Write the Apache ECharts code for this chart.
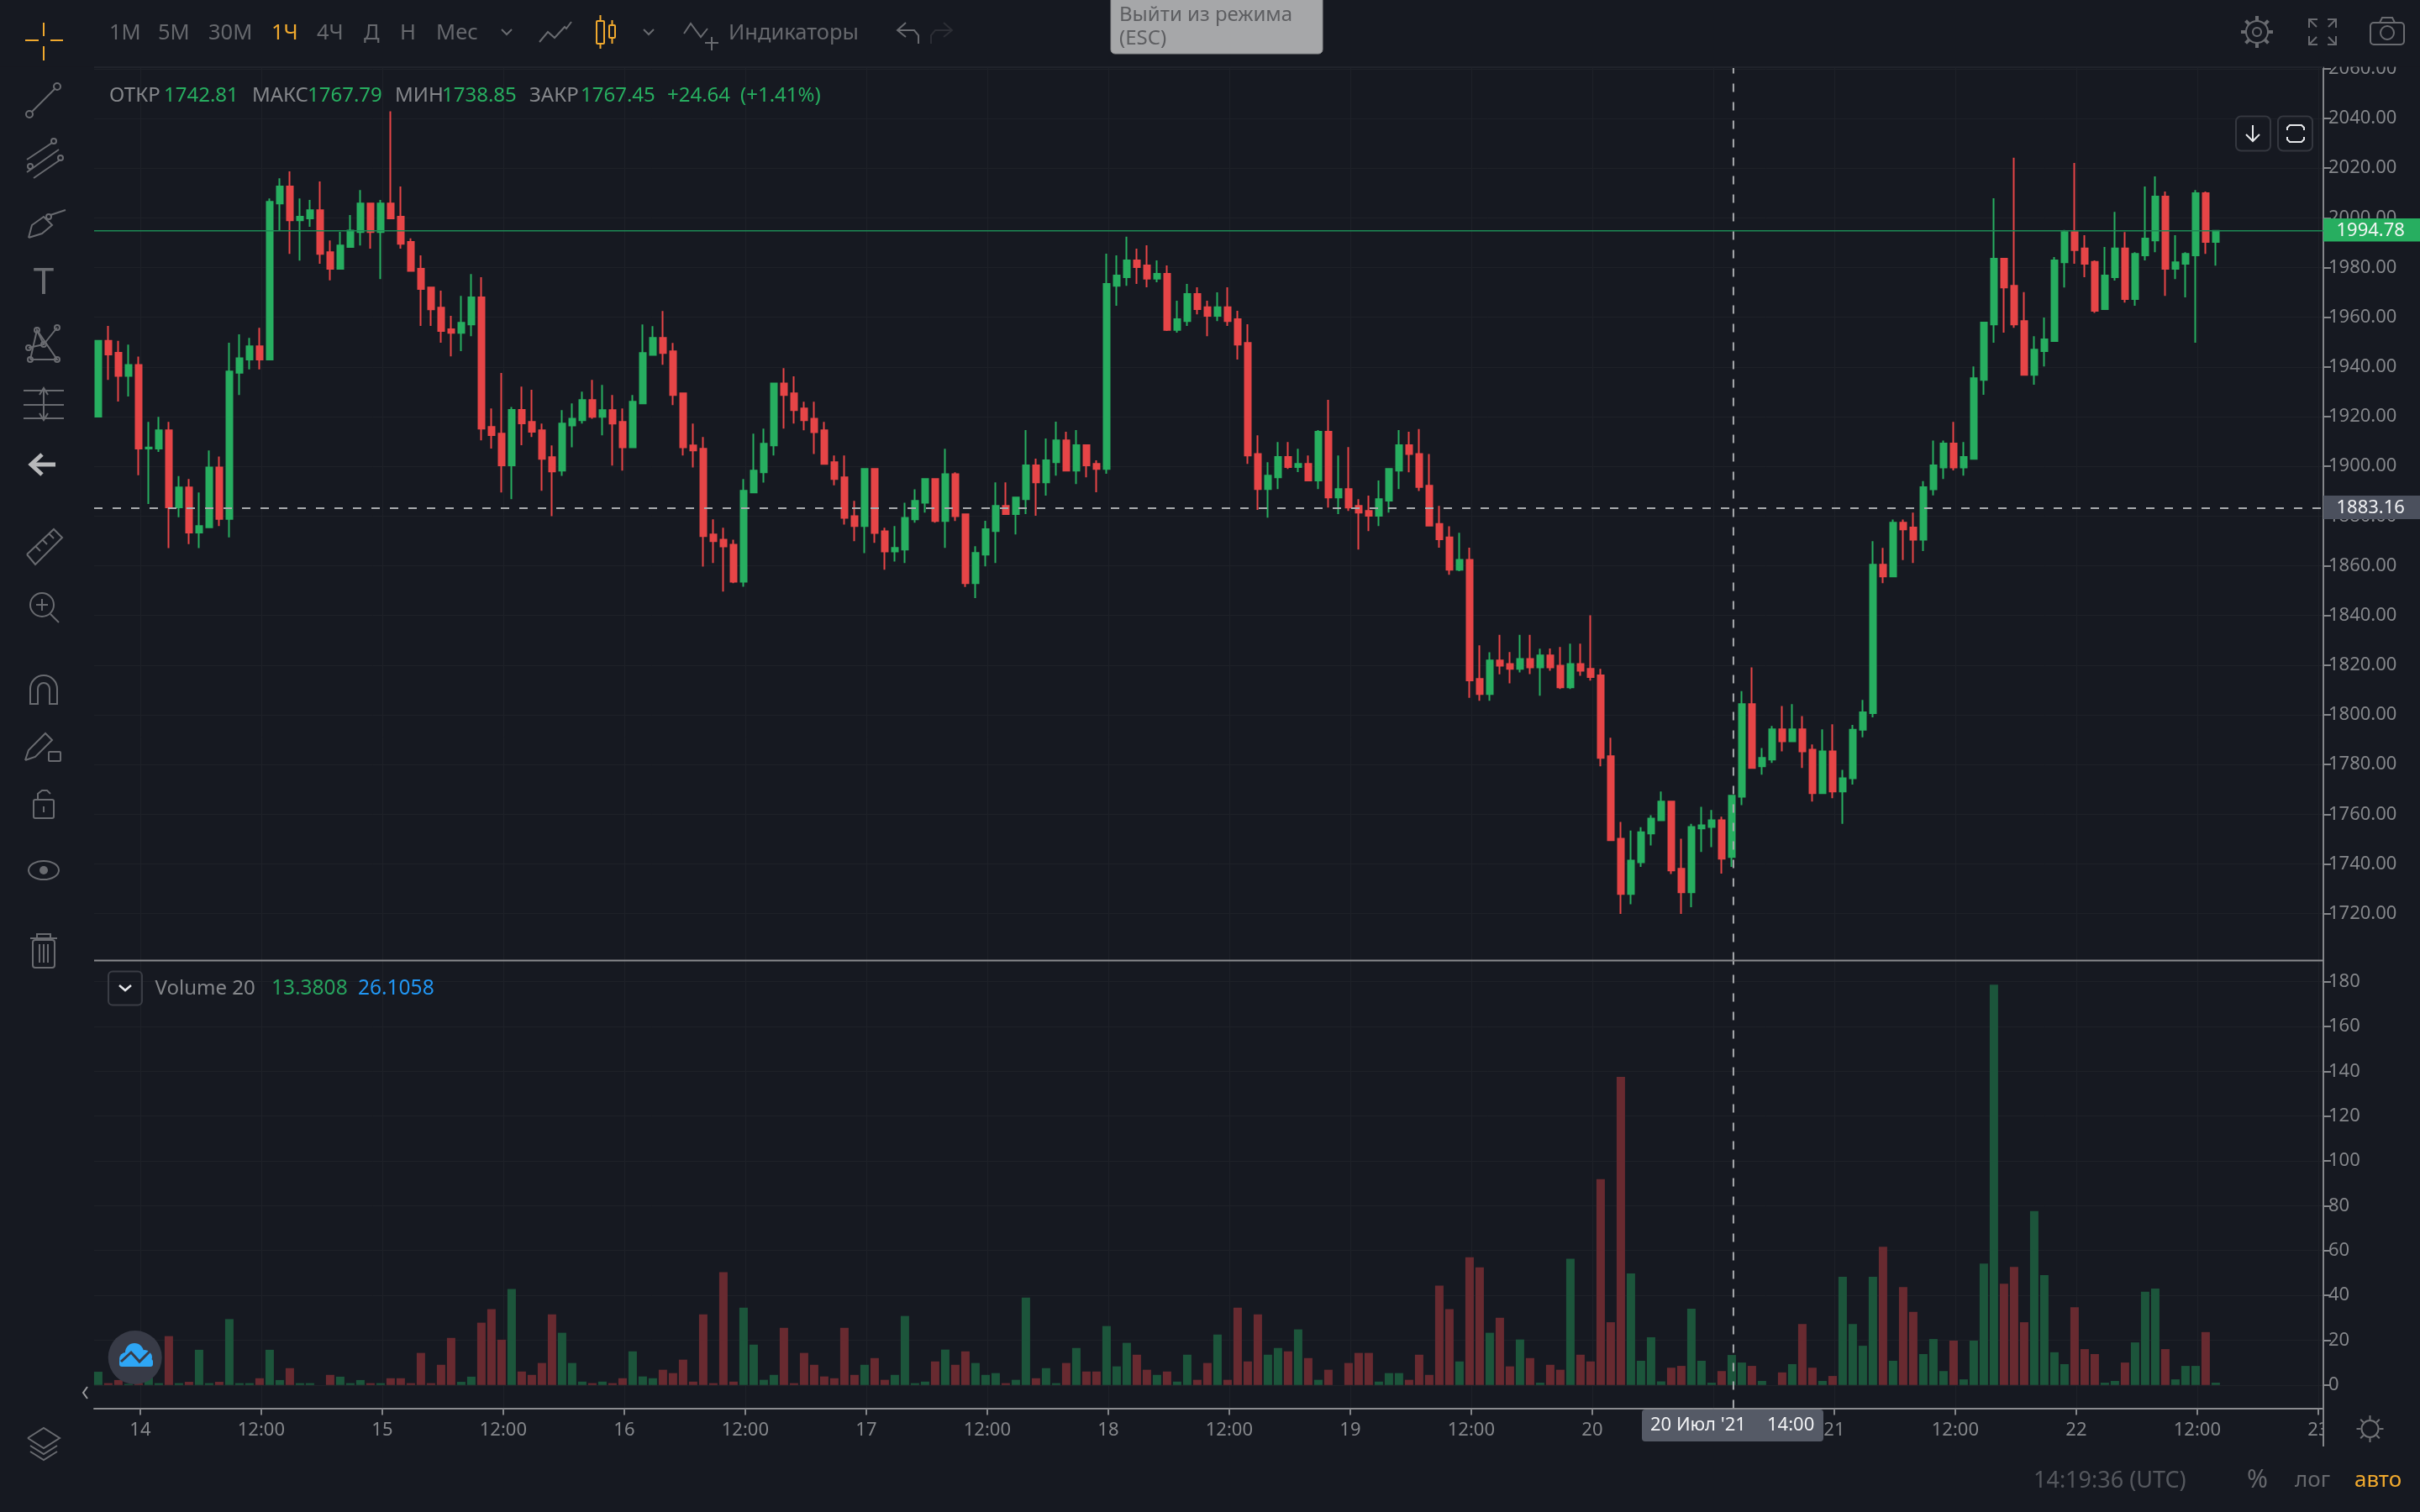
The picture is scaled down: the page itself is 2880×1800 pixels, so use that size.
<!DOCTYPE html>
<html><head><meta charset="utf-8">
<style>html,body{margin:0;padding:0;background:#161921}#c{width:2880px;height:1800px}</style>
<script src="https://cdn.jsdelivr.net/npm/echarts@6/dist/echarts.min.js"></script>
</head><body><div id="c"></div><script>
const opens=[1920.0,1950.5,1945.7,1936.4,1940.8,1907.2,1907.2,1914.5,1883.5,1891.5,
1873.4,1875.5,1899.6,1878.9,1937.7,1943.0,1948.3,1943.0,2005.8,2012.6,
1999.0,1999.8,2003.1,1986.2,1979.5,1988.3,1994.3,2005.8,1994.3,2005.8,
2000.5,1990.3,1979.5,1972.0,1963.9,1955.2,1953.7,1957.1,1968.0,1915.9,
1913.2,1900.4,1922.7,1917.9,1914.5,1903.7,1898.3,1916.5,1918.6,1926.7,
1919.9,1922.6,1917.9,1907.7,1925.3,1944.9,1951.7,1946.3,1929.4,1908.4,
1907.1,1872.6,1870.5,1868.5,1853.6,1889.5,1897.6,1908.4,1933.4,1929.4,
1923.3,1919.2,1914.5,1901.7,1895.6,1880.0,1876.0,1899.0,1873.9,1865.8,
1866.5,1878.7,1885.4,1894.9,1878.0,1896.9,1880.7,1853.0,1864.5,1874.0,
1884.1,1880.8,1886.8,1900.4,1893.6,1901.7,1910.5,1898.3,1908.5,1901.0,
1899.0,1972.7,1976.1,1982.9,1980.9,1975.5,1977.5,1954.9,1958.5,1969.4,
1964.0,1960.6,1964.0,1959.2,1949.7,1905.0,1890.9,1895.6,1903.8,1899.7,
1901.0,1894.3,1913.9,1887.5,1890.9,1884.1,1882.1,1880.1,1886.2,1898.3,
1908.5,1905.0,1892.2,1876.8,1871.4,1858.4,1862.4,1814.5,1808.4,1821.9,
1820.5,1818.5,1822.5,1819.1,1823.9,1819.8,1811.1,1820.5,1818.5,1815.9,
1783.4,1750.2,1727.9,1740.7,1752.3,1757.6,1765.1,1738.1,1728.6,1754.3,
1754.9,1757.6,1742.81,1767.1,1804.3,1779.3,1782.0,1794.2,1789.4,1794.2,
1786.0,1768.5,1785.3,1769.2,1774.5,1794.0,1800.7,1860.4,1855.7,1877.3,
1875.4,1870.5,1890.8,1899.6,1909.2,1899.6,1903.0,1934.8,1957.1,1983.6,
1972.7,1958.5,1936.8,1946.4,1950.4,1982.1,1994.3,1987.7,1982.3,1963.3,
1976.1,1987.7,1967.3,1984.9,1990.9,2008.6,1979.5,1981.5,1984.9,2009.9,
1990.3];
const closes=[1950.5,1945.0,1936.4,1940.8,1907.2,1907.6,1914.5,1883.5,1891.5,1873.4,
1876.0,1899.6,1878.9,1938.2,1943.5,1948.3,1943.0,2006.5,2012.6,1999.0,
2000.5,2003.1,1985.5,1979.5,1988.9,1994.9,2005.8,1994.3,2005.8,1999.8,
1989.6,1978.7,1971.4,1963.2,1954.5,1953.7,1957.8,1968.0,1915.2,1912.6,
1900.4,1922.7,1917.3,1913.9,1903.0,1898.0,1917.2,1919.2,1926.7,1919.9,
1922.6,1917.2,1907.7,1926.0,1945.6,1951.7,1945.6,1928.7,1907.7,1906.4,
1871.9,1869.9,1867.8,1853.6,1890.2,1898.3,1909.1,1933.4,1928.7,1922.6,
1918.6,1913.8,1901.0,1894.9,1879.3,1876.0,1899.0,1873.2,1865.8,1867.2,
1879.3,1886.1,1894.9,1878.0,1896.9,1880.0,1853.0,1865.2,1874.7,1884.1,
1880.8,1887.5,1900.4,1893.6,1902.4,1910.5,1898.3,1908.5,1900.4,1899.0,
1973.4,1976.8,1982.9,1980.2,1975.5,1977.5,1954.9,1959.2,1969.4,1963.3,
1960.6,1964.0,1958.5,1949.0,1904.4,1890.9,1896.3,1903.8,1899.7,1901.0,
1894.3,1913.9,1887.5,1890.9,1883.4,1881.4,1880.1,1886.8,1899.0,1908.5,
1905.0,1891.7,1876.2,1870.7,1858.4,1862.4,1813.9,1808.4,1821.9,1819.8,
1818.5,1822.5,1819.1,1823.9,1819.1,1811.1,1820.5,1817.8,1815.2,1782.7,
1749.6,1727.9,1741.4,1752.8,1758.3,1765.1,1737.4,1728.6,1754.9,1755.6,
1757.6,1742.1,1767.45,1804.3,1778.6,1782.7,1794.2,1789.4,1794.2,1785.3,
1768.5,1785.3,1769.2,1774.5,1794.0,1801.0,1860.4,1855.7,1877.3,1874.6,
1870.5,1891.6,1900.4,1909.2,1899.6,1903.8,1935.5,1957.9,1983.6,1972.0,
1957.1,1936.8,1947.0,1951.1,1982.9,1994.3,1987.0,1981.5,1962.6,1976.8,
1987.7,1967.3,1985.5,1991.7,2008.6,1979.5,1982.1,1985.5,2009.9,1990.3,
1994.78];
const lows=[1920.0,1934.8,1926.1,1928.1,1896.4,1884.9,1905.8,1867.1,1879.5,1868.7,
1867.1,1875.5,1876.0,1871.4,1928.7,1939.0,1939.0,1943.0,1994.9,1985.5,
1982.8,1996.4,1981.5,1974.9,1979.5,1988.3,1988.9,1987.6,1975.4,1999.8,
1987.6,1978.7,1956.5,1956.5,1949.8,1944.3,1946.4,1952.4,1910.5,1907.2,
1889.5,1886.8,1908.5,1911.8,1890.2,1880.0,1896.2,1907.7,1917.2,1919.2,
1912.5,1900.3,1898.3,1907.7,1925.3,1944.9,1940.9,1924.7,1904.4,1899.6,
1859.7,1861.1,1849.6,1853.0,1851.6,1889.5,1893.5,1904.4,1915.2,1917.2,
1914.5,1905.0,1901.0,1892.4,1876.6,1869.9,1865.1,1869.2,1858.4,1861.7,
1861.1,1877.3,1881.4,1877.3,1867.2,1878.0,1851.5,1847.0,1859.8,1861.1,
1880.8,1872.6,1880.8,1880.1,1888.2,1896.3,1898.3,1892.9,1895.6,1889.6,
1897.0,1964.6,1972.7,1973.4,1972.1,1974.1,1954.5,1953.8,1956.5,1961.2,
1952.4,1958.5,1956.5,1943.0,1901.0,1882.5,1879.4,1890.9,1899.0,1897.7,
1894.3,1890.9,1883.4,1880.8,1882.1,1866.5,1874.0,1876.0,1881.4,1890.9,
1897.6,1890.1,1876.2,1867.3,1856.4,1857.8,1806.9,1805.7,1805.7,1816.3,
1812.7,1817.1,1816.4,1807.7,1817.8,1810.4,1810.4,1815.7,1813.8,1779.3,
1749.6,1719.9,1723.8,1738.8,1747.5,1757.6,1736.0,1719.9,1722.6,1744.8,
1746.8,1736.1,1738.85,1763.7,1778.6,1775.9,1780.7,1785.3,1789.4,1778.6,
1765.1,1768.5,1766.5,1756.2,1772.0,1791.0,1799.0,1853.0,1855.7,1862.3,
1861.1,1865.9,1888.3,1894.9,1898.4,1896.3,1903.0,1928.8,1949.8,1953.8,
1955.8,1936.8,1932.9,1940.2,1950.4,1972.0,1981.5,1976.1,1961.8,1963.3,
1974.8,1965.9,1964.6,1982.9,1986.2,1968.6,1975.4,1968.0,1949.8,1985.5,
1980.8];
const highs=[1950.5,1956.5,1950.5,1949.0,1944.2,1917.9,1919.9,1917.9,1896.1,1894.9,
1889.5,1906.4,1904.0,1949.8,1953.1,1951.7,1955.8,2007.8,2015.9,2018.7,
2007.8,2007.2,2014.7,1990.9,1994.4,2001.1,2011.2,2005.8,2007.2,2042.9,
2012.6,1991.8,1984.9,1972.0,1970.7,1960.6,1968.6,1977.4,1976.1,1923.3,
1937.6,1923.9,1932.1,1930.8,1917.2,1908.4,1922.6,1925.3,1930.1,1934.8,
1932.8,1928.7,1923.3,1928.7,1957.1,1956.4,1962.5,1949.7,1929.4,1917.2,
1911.8,1878.7,1875.3,1870.5,1894.9,1913.2,1915.2,1933.4,1939.5,1936.2,
1926.0,1926.0,1917.9,1904.4,1904.4,1886.1,1899.0,1899.0,1875.3,1876.0,
1885.4,1890.8,1894.9,1894.9,1907.1,1897.6,1880.7,1867.9,1878.1,1893.6,
1893.6,1887.5,1914.6,1903.1,1911.2,1918.0,1913.9,1914.6,1908.5,1902.4,
1985.6,1984.9,1992.4,1987.6,1989.0,1982.9,1980.9,1966.7,1973.4,1972.1,
1966.7,1970.0,1972.1,1962.6,1957.2,1912.5,1901.7,1909.8,1909.8,1907.1,
1904.4,1914.6,1926.8,1904.4,1907.8,1886.8,1888.2,1894.3,1899.0,1914.6,
1913.9,1915.0,1905.0,1884.1,1875.9,1873.3,1867.3,1828.0,1825.2,1832.2,
1825.3,1832.2,1832.2,1826.6,1826.7,1827.3,1828.7,1828.7,1840.1,1818.5,
1790.8,1756.9,1753.5,1754.8,1759.6,1769.2,1765.1,1750.2,1756.2,1763.0,
1761.7,1759.0,1767.79,1809.6,1819.1,1786.7,1795.5,1803.6,1804.3,1799.5,
1788.1,1794.2,1796.2,1777.9,1796.0,1806.0,1869.9,1867.2,1878.6,1878.6,
1881.4,1894.1,1910.4,1910.4,1917.9,1909.8,1940.2,1957.9,2007.9,1983.6,
2024.2,1970.1,1952.4,1959.9,1984.2,1995.1,2022.1,1993.0,1982.9,1988.3,
2002.4,1994.3,1986.2,2012.6,2016.7,2010.6,1993.0,1986.2,2011.2,2010.6,
1994.78];
const volumes=[5.9,0.8,2.2,0.5,0.8,3.5,0.8,21.8,0.8,1.4,
15.7,0.8,1.4,29.4,0.8,0.8,3,15.7,2.2,7.5,
0.8,0.8,0,4.5,3.7,0.8,2.2,0.8,0.8,3,
3,0.8,14.3,0.8,9,21,1.4,3.7,27.8,33.8,
20.2,42.8,6,4.5,9.8,31.5,23.3,9.8,1.5,0.8,
1.5,0.8,3,15,3.8,3,6.8,5.3,11.3,1.5,
31.5,0.8,50.3,1.5,34.5,18,2.3,4.5,25.5,0.8,
14.3,9,3.8,3,25.5,4.5,9,12,2.3,4.5,
30.8,0.8,1.5,10.5,15.8,9,15,9.8,4.5,5.3,
0.8,2.3,39,3,7.5,0.8,9.8,16.5,6,6,
26.3,8.3,18.8,13.5,6.8,4.5,6,1.5,13.5,2.3,
9.8,22.5,2.3,34.5,10.5,31.5,13.5,16.5,15,24.8,
12,2.3,6.8,0,9.8,14.3,14.3,1.5,5.3,5.3,
2.3,13.5,4.5,44.3,33.8,10.5,57,52.5,23.3,30,
8.3,20.3,12,1,9,6.8,56.3,13.5,10.5,91.9,
28,137.5,49.8,10.8,21.3,1.6,7.7,8.5,34,10.8,
1,6.2,13.38,10,8.5,1.8,0,5.6,9.3,27.2,
7.7,1.8,4,48.3,27.2,17.5,48.3,61.7,10.8,43.7,
32.6,13.8,20.5,6.2,19.8,2.5,19.8,54.2,178.7,45.2,
52.7,28,77.6,49,14.6,9.3,34.7,16,13.8,1,
1.8,10,19,41.6,43,16,2.5,8.5,8.5,23.6,
1];
const tickHours=[4,16,28,40,52,64,76,88,100,112,124,136,148,160,172,184,196,208,220];
const tickLabels=['14','12:00','15','12:00','16','12:00','17','12:00','18','12:00','19','12:00','20','12:00','21','12:00','22','12:00','23'];
const priceTicks=[1720,1740,1760,1780,1800,1820,1840,1860,1880,1900,1920,1940,1960,1980,2000,2020,2040,2060];
const volumeTicks=[0,20,40,60,80,100,120,140,160,180];
const lastPrice=1994.78, crossPrice=1883.16, crossHour=162;

const BG='#161921',GREEN='#27ae60',RED='#e64547',VG='#1c553b',VR='#682a30',GRID='#1e2128',AX='#84868a',TXT='#85878b',ICON='#696b70',ORANGE='#f0a92e';
const F='"Noto Sans"';
const tickMap={};tickHours.forEach((h,i)=>tickMap[h]=tickLabels[i]);
const candle=opens.map((o,i)=>[i,o,closes[i],lows[i],highs[i]]);
const vols=volumes.map((v,i)=>({value:[i,v],itemStyle:{color:closes[i]>=opens[i]?VG:VR}}));

const G=[];const Z=100;
const rect=(x,y,w,h,fill,stroke,r,lw,z)=>G.push({type:'rect',z:z||Z,silent:true,shape:{x,y,width:w,height:h,r:r||0},style:{fill:fill||'transparent',stroke:stroke||null,lineWidth:lw||2}});
const poly=(pts,c,lw)=>G.push({type:'polyline',z:Z,silent:true,shape:{points:pts},style:{fill:'transparent',stroke:c||ICON,lineWidth:lw||2}});
const circ=(x,y,r,stroke,fill,lw)=>G.push({type:'circle',z:Z,silent:true,shape:{cx:x,cy:y,r},style:{fill:fill||'transparent',stroke:stroke||null,lineWidth:lw||2}});
const txt=(x,y,t,c,s,al,fw)=>G.push({type:'text',z:Z,silent:true,x,y,style:{text:t,fill:c,font:(fw||'normal')+' '+s+'px '+F,textAlign:al||'left',textVerticalAlign:'middle'}});

// masks for clipped labels
rect(0,0,2880,79.5,BG,null,0,0,50);
rect(2766,1678,114,44,BG,null,0,0,50);
poly([[112,80],[2765,80]],'#20232b',2);
poly([[2765,1660],[2765,1722]],AX,2);
// separator
poly([[112,1143.5],[2765,1143.5]],'#8a8b8f',2);

// toolbar
[[130,'1М'],[188,'5М'],[248,'30М'],[323,'1Ч',ORANGE],[377,'4Ч'],[433,'Д'],[476,'Н'],[519,'Мес'],[867,'Индикаторы']].forEach(a=>txt(a[0],40,a[1],a[2]||'#66686d',25.5));
poly([[597,35],[603,41],[609,35]],ICON);poly([[766,35],[772,41],[778,35]],ICON);
poly([[642,50],[652,38],[660,45],[672,32],[674,34],[680,26]],ICON);
rect(710,25,9,27,'transparent',ORANGE,1,2);poly([[714.5,18],[714.5,25]],ORANGE);poly([[714.5,52],[714.5,58]],ORANGE);
rect(725,30,7,15,'transparent',ORANGE,1,2);poly([[728.5,24],[728.5,30]],ORANGE);poly([[728.5,45],[728.5,52]],ORANGE);
poly([[814,40],[822,28],[834,44],[842,34]],ICON);poly([[847,44],[847,60]],ICON);poly([[839,51],[855,51]],ICON);
poly([[1078,27],[1068,36],[1078,44]],ICON);poly([[1068,36],[1088,36],[1093,42],[1093,52]],ICON);
poly([[1123,27],[1133,36],[1123,44]],'#2c2e35');poly([[1133,36],[1113,36],[1108,42],[1108,52]],'#2c2e35');
// exit pill
rect(1322,-6,252,70,'#a6a7a9','#8d8e90',5,1);
txt(1332,18,'Выйти из режима','#5d5e61',24);txt(1332,46,'(ESC)','#5d5e61',24);
// legend
[[130,'ОТКР',TXT],[195,'1742.81',GREEN],[300,'МАКС',TXT],[366,'1767.79',GREEN],[470,'МИН',TXT],[526,'1738.85',GREEN],[630,'ЗАКР',TXT],[691,'1767.45',GREEN],[794,'+24.64',GREEN],[881,'(+1.41%)',GREEN]].forEach(a=>txt(a[0],114,a[1],a[2],24));
// top-right icons
circ(2686,38,13,ICON);circ(2686,38,5,ICON);
for(let i=0;i<8;i++){const a=i*Math.PI/4;poly([[2686+13*Math.cos(a),38+13*Math.sin(a)],[2686+19*Math.cos(a),38+19*Math.sin(a)]],ICON,4);}
[[2748,23,1,1],[2780,23,-1,1],[2748,53,1,-1],[2780,53,-1,-1]].forEach(a=>{poly([[a[0]+a[2]*9,a[1]+a[3]*9],[a[0],a[1]]],ICON);poly([[a[0],a[1]+a[3]*10],[a[0],a[1]],[a[0]+a[2]*10,a[1]]],ICON);});
rect(2821,27,40,26,'transparent',ICON,4,2);poly([[2832,27],[2835,21],[2847,21],[2850,27]],ICON);circ(2841,39,8,ICON);
// pane buttons
rect(2661,138.5,41,41,'transparent','#34373f',6,2);rect(2711,138.5,41,41,'transparent','#34373f',6,2);
poly([[2681,149],[2681,168]],'#e6e7ea');poly([[2673,160],[2681,168],[2689,160]],'#e6e7ea');
poly([[2722,155],[2722,152],[2725,149],[2739,149],[2742,152],[2742,155]],'#e6e7ea');poly([[2722,163],[2722,166],[2725,169],[2739,169],[2742,166],[2742,163]],'#e6e7ea');
// price badges
rect(2765,260,115,27.5,GREEN);txt(2780.5,274.5,'1994.78','#f2f6f3',22);
rect(2765,590,115,28,'#4b505d');txt(2780.5,604.5,'1883.16','#f0f1f3',22);
// volume legend
rect(129,1156.5,40,40,'transparent','#3a3d45',5,2);poly([[142,1173],[149,1179],[156,1173]],'#e6e7ea',2.5);
txt(184.5,1177,'Volume 20',TXT,24);txt(323,1177,'13.3808','#27a35e',24.5);txt(426,1177,'26.1058','#2196f3',24.5);
// logo
circ(160.7,1616,32,null,'#383b47');
circ(150,1618,8,null,'#2ea6f5');circ(160,1610,11,null,'#2ea6f5');circ(172,1616,9,null,'#2ea6f5');rect(142,1618,40,9,'#2ea6f5',null,3);
poly([[144,1621],[156,1610],[166,1621],[180,1607]],'#383b47',3);
poly([[104,1651],[99,1658],[104,1665]],'#9c9da0',2);
// crosshair time pill
rect(1954,1678,216,38,'#555a66',null,4);
txt(1964,1696.5,"20 Июл '21",'#f2f3f5',22);txt(2103,1696.5,'14:00','#f2f3f5',22);
// bottom right
txt(2420,1763,'14:19:36 (UTC)','#55585e',27);txt(2674,1762,'%','#66686d',30);txt(2731,1763,'лог','#66686d',26);txt(2802,1763,'авто',ORANGE,26);
circ(2820.5,1701,10,'#707276');
for(let i=0;i<8;i++){const a=i*Math.PI/4;poly([[2820.5+11*Math.cos(a),1701+11*Math.sin(a)],[2820.5+16*Math.cos(a),1701+16*Math.sin(a)]],'#707276');}

// sidebar icons
poly([[52,27],[52,43]],ORANGE);poly([[52,55],[52,72]],ORANGE);poly([[30,48],[46,48]],ORANGE);poly([[60,48],[75,48]],ORANGE);
poly([[38,133],[66,105]]);circ(35,136,4,ICON);circ(68,103,4,ICON);
poly([[32,190],[62,170]]);poly([[32,205],[70,178]]);poly([[40,212],[72,190]]);circ(64,168,3,ICON);circ(72,188,3,ICON);circ(36,198,3,ICON);
poly([[34,283],[38,268],[52,258],[62,268],[50,278],[34,283]]);poly([[60,256],[78,250]]);circ(58,258,3,ICON);
txt(52,337,'T',ICON,44,'center');
poly([[36,428],[44,393],[68,428],[36,428]]);poly([[44,393],[52,410],[34,414]]);poly([[52,410],[68,390]]);[[36,428],[44,393],[68,428],[52,410],[68,390],[34,414]].forEach(p=>circ(p[0],p[1],3,ICON));
poly([[28,465],[76,465]]);poly([[28,482],[76,482]]);poly([[28,498],[76,498]]);poly([[52,462],[52,500]]);poly([[47,492],[52,500],[57,492]]);poly([[47,470],[52,462],[57,470]]);
poly([[38,553],[66,553]],'#b7b8ba',5);poly([[50,541],[37,553],[50,565]],'#b7b8ba',5);
poly([[32,660],[64,630],[74,640],[42,672],[32,660]]);poly([[42,650],[48,656]]);poly([[50,642],[56,648]]);poly([[58,635],[64,641]]);
circ(50,720,14,ICON);poly([[60,731],[70,741]]);poly([[43,720],[57,720]]);poly([[50,713],[50,727]]);
G.push({type:'arc',z:Z,silent:true,shape:{cx:52,cy:820,r:7,startAngle:Math.PI,endAngle:0,clockwise:true},style:{stroke:ICON,fill:'transparent',lineWidth:2}});
G.push({type:'arc',z:Z,silent:true,shape:{cx:52,cy:820,r:16,startAngle:Math.PI,endAngle:0,clockwise:true},style:{stroke:ICON,fill:'transparent',lineWidth:2}});
poly([[36,820],[36,838],[45,838],[45,820]]);poly([[59,820],[59,838],[68,838],[68,820]]);
poly([[30,905],[34,893],[54,873],[62,881],[42,901],[30,905]]);rect(58,895,14,11,'transparent',ICON,1);
rect(40,952,24,22,'transparent',ICON,2);poly([[45,952],[45,945],[50,941],[56,941],[60,945]]);poly([[52,960],[52,967]]);
G.push({type:'ellipse',z:Z,silent:true,shape:{cx:52,cy:1036,rx:18,ry:11},style:{stroke:ICON,fill:'transparent',lineWidth:2}});circ(52,1036,5,null,ICON);
poly([[36,1117],[68,1117]]);poly([[44,1117],[44,1112],[60,1112],[60,1117]]);rect(39,1119,26,33,'transparent',ICON,3);poly([[47,1124],[47,1146]]);poly([[52,1124],[52,1146]]);poly([[57,1124],[57,1146]]);
poly([[33,1712],[52,1700],[71,1712],[52,1724],[33,1712]]);poly([[36,1721],[52,1731],[68,1721]]);poly([[36,1728],[52,1738],[68,1728]]);

const marksX={min:-0.408,max:220.675},ticksX={min:-0.575,max:220.508};
const hiddenX=(g)=>({type:'value',gridIndex:g,show:false,min:marksX.min,max:marksX.max,splitLine:{show:false}});
const yCommon=(vals,fmt)=>({type:'value',position:'right',scale:true,
 axisLine:{show:true,onZero:false,lineStyle:{color:AX,width:2}},
 axisTick:{show:true,length:9,customValues:vals,lineStyle:{color:AX,width:2}},
 axisLabel:{customValues:vals,color:TXT,fontFamily:F,fontSize:22,margin:6,formatter:fmt},
 splitLine:{show:true,lineStyle:{color:GRID,width:1}}});
const opt={backgroundColor:BG,animation:false,
 grid:[{left:112,top:80,width:2653,height:1063.5,show:false},{left:112,top:1143.5,width:2653,height:533,show:false}],
 xAxis:[hiddenX(0),
  {type:'value',gridIndex:0,position:'bottom',min:ticksX.min,max:ticksX.max,axisLine:{show:false,onZero:false},axisTick:{show:false,customValues:tickHours},axisLabel:{show:false,customValues:tickHours},splitLine:{show:true,lineStyle:{color:GRID,width:1}}},
  hiddenX(1),
  {type:'value',gridIndex:1,position:'bottom',min:ticksX.min,max:ticksX.max,axisLine:{show:true,onZero:false,lineStyle:{color:'#8a8b8f',width:2}},axisTick:{show:true,length:8,customValues:tickHours,lineStyle:{color:AX,width:2}},
   axisLabel:{customValues:tickHours,color:TXT,fontFamily:F,fontSize:22,margin:15,formatter:v=>tickMap[v]||''},splitLine:{show:true,lineStyle:{color:GRID,width:1}}}],
 yAxis:[Object.assign(yCommon(priceTicks,v=>v.toFixed(2)),{gridIndex:0,min:1701.15,max:2060.63}),
  Object.assign(yCommon(volumeTicks,v=>String(v)),{gridIndex:1,min:-10.4,max:189.45})],
 series:[
  {type:'bar',xAxisIndex:2,yAxisIndex:1,data:vols,barWidth:10,silent:true,z:2},
  {type:'candlestick',xAxisIndex:0,yAxisIndex:0,data:candle,barWidth:8,silent:true,z:3,
   itemStyle:{color:GREEN,color0:RED,borderColor:GREEN,borderColor0:RED,borderColorDoji:GREEN,borderWidth:2}},
  {type:'line',xAxisIndex:1,yAxisIndex:0,silent:true,symbol:'none',z:4,data:[[ticksX.min,lastPrice],[ticksX.max,lastPrice]],lineStyle:{color:'#1c8a55',width:1.5}},
  {type:'line',xAxisIndex:1,yAxisIndex:0,silent:true,symbol:'none',z:5,data:[[ticksX.min,crossPrice],[ticksX.max,crossPrice]],lineStyle:{color:'#a9abae',width:2,type:[10,12]}},
  {type:'line',xAxisIndex:1,yAxisIndex:0,silent:true,symbol:'none',z:5,data:[[crossHour,1701.15],[crossHour,2060.63]],lineStyle:{color:'#a9abae',width:2,type:[10,12]}},
  {type:'line',xAxisIndex:3,yAxisIndex:1,silent:true,symbol:'none',z:5,data:[[crossHour,-10.4],[crossHour,189.45]],lineStyle:{color:'#a9abae',width:2,type:[10,12]}}
 ],
 graphic:{elements:G}};
const chart=echarts.init(document.getElementById('c'),null,{renderer:'canvas',width:2880,height:1800});
chart.setOption(opt);
</script></body></html>
